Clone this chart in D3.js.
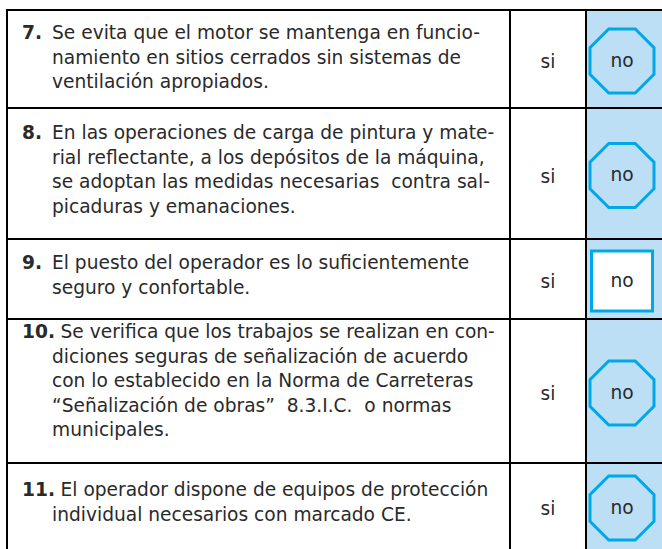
<!DOCTYPE html>
<html><head><meta charset="utf-8">
<script src="https://cdn.jsdelivr.net/npm/d3@7"></script>
<style>html,body{margin:0;padding:0;background:#fff;}svg{display:block;}</style>
</head><body>
<script>
// ---- data ----
const itemNumbers = ["7.", "8.", "9.", "10.", "11."];
const itemLines = [
  ["Se evita que el motor se mantenga en funcio-", "namiento en sitios cerrados sin sistemas de", "ventilación apropiados."],
  ["En las operaciones de carga de pintura y mate-", "rial reflectante, a los depósitos de la máquina,", "se adoptan las medidas necesarias  contra sal-", "picaduras y emanaciones."],
  ["El puesto del operador es lo suficientemente", "seguro y confortable."],
  ["Se verifica que los trabajos se realizan en con-", "diciones seguras de señalización de acuerdo", "con lo establecido en la Norma de Carreteras", "“Señalización de obras”  8.3.I.C.  o normas", "municipales."],
  ["El operador dispone de equipos de protección", "individual necesarios con marcado CE."]
];
const yesLabels = ["si", "si", "si", "si", "si"];
const noLabels = ["no", "no", "no", "no", "no"];
const noShapes = ["octagon", "octagon", "square", "octagon", "octagon"];

// ---- layout ----
const W = 662, H = 549;
const rowEdges = [10, 108, 239, 319, 463, 549];
const firstBaseline = [29, 31, 30, 19, 33];
const lineGap = 24.5;
const colX = {left: 7, num: 22, text: 52, si: 510, no: 586, right: 662};
const blue = "#bcdff5", cyan = "#00a9e6";

const svg = d3.select("body").append("svg").attr("width", W).attr("height", H);
const rowIdx = d3.range(itemNumbers.length);

svg.append("rect").attr("x", colX.no).attr("y", rowEdges[0]).attr("width", colX.right - colX.no).attr("height", H - rowEdges[0]).attr("fill", blue);

const font = "'DejaVu Sans', Verdana, sans-serif";
const probe = svg.append("text").attr("font-family", font).attr("font-size", 16).text(itemLines[0][0]);
const natural = probe.node().getComputedTextLength();
probe.remove();
const fs = 16 * 428 / natural;

const shapes = svg.append("g");
const g = svg.append("g").attr("font-family", font).attr("fill", "#2a2a2a");

rowIdx.forEach(i => {
  const top = rowEdges[i], bot = rowEdges[i + 1], mid = (top + bot) / 2;
  const b0 = top + firstBaseline[i];
  const num = g.append("text").attr("x", colX.num).attr("y", b0).attr("font-size", fs).attr("font-weight", "bold").text(itemNumbers[i]);
  itemLines[i].forEach((ln, k) => {
    let x = colX.text;
    if (k === 0 && itemNumbers[i].length > 2) x = colX.num + num.node().getComputedTextLength() + fs * 0.3;
    g.append("text").attr("x", x).attr("y", b0 + k * lineGap).attr("font-size", fs).attr("xml:space", "preserve").style("white-space", "pre").text(ln);
  });
  g.append("text").attr("x", (colX.si + colX.no) / 2).attr("y", mid + 9).attr("text-anchor", "middle").attr("font-size", fs).text(yesLabels[i]);

  const cx = (colX.no + colX.right) / 2 - 2, cy = mid + 2;
  if (noShapes[i] === "octagon") {
    const r = 32 / Math.cos(Math.PI / 8);
    const pts = d3.range(8).map(j => {
      const a = Math.PI / 8 + j * Math.PI / 4;
      return [cx + r * Math.cos(a), cy + r * Math.sin(a)];
    });
    shapes.append("polygon").attr("points", pts.map(p => p.join(",")).join(" ")).attr("fill", "none").attr("stroke", cyan).attr("stroke-width", 3);
  } else {
    shapes.append("rect").attr("x", cx - 30.5).attr("y", cy - 30).attr("width", 61).attr("height", 60).attr("fill", "#fff").attr("stroke", cyan).attr("stroke-width", 3);
  }
  g.append("text").attr("x", cx).attr("y", cy + 5.5).attr("text-anchor", "middle").attr("font-size", fs).text(noLabels[i]);
});

const lines = svg.append("g").attr("stroke", "#000").attr("stroke-width", 2);
rowEdges.slice(0, -1).forEach(yy => lines.append("line").attr("x1", colX.left - 1).attr("x2", W).attr("y1", yy).attr("y2", yy));
[colX.left, colX.si, colX.no].forEach(xx => lines.append("line").attr("x1", xx).attr("x2", xx).attr("y1", rowEdges[0]).attr("y2", H));
</script>
</body></html>
